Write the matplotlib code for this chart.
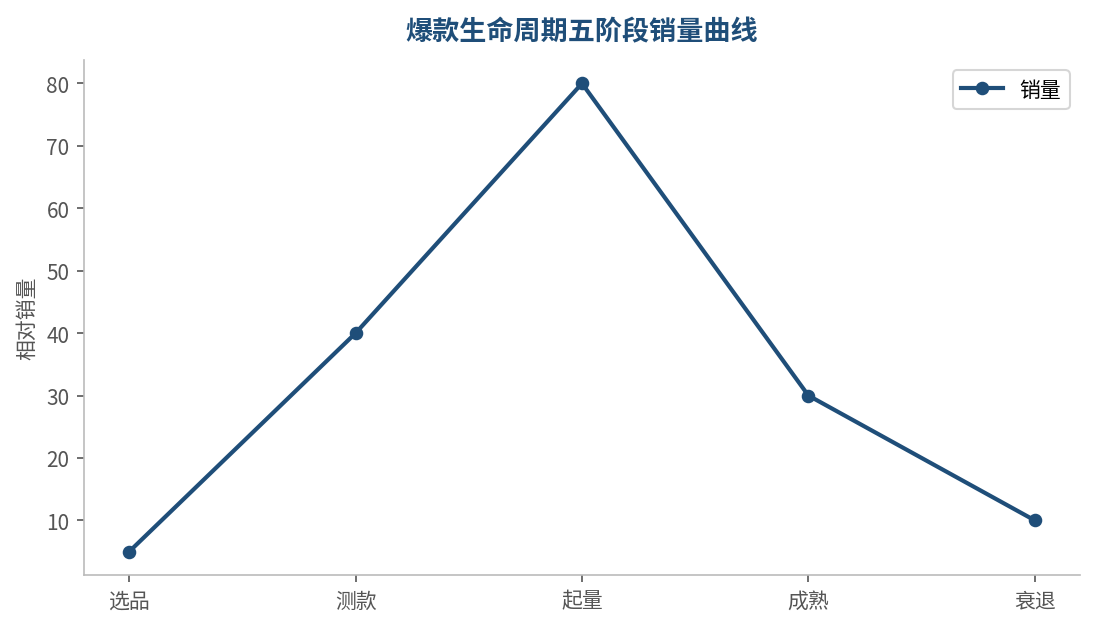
import matplotlib
matplotlib.use('Agg')
import matplotlib.pyplot as plt

plt.rcParams['font.family'] = ['Noto Sans CJK SC', 'DejaVu Sans']

stages = ['选品', '测款', '起量', '成熟', '衰退']
sales = [5, 40, 80, 30, 10]

line_color = '#1f4e79'
grey = '#555555'

fig, ax = plt.subplots(figsize=(7.3, 4.1933), dpi=150)
fig.subplots_adjust(left=0.0767, right=0.9863, top=0.903, bottom=0.0843)

ax.plot(stages, sales, color=line_color, linewidth=2, marker='o', markersize=5.5, label='销量')

ax.set_title('爆款生命周期五阶段销量曲线', fontsize=13, fontweight='bold', color=line_color, pad=10)
ax.set_ylabel('相对销量', fontsize=10, color=grey)

for side in ['top', 'right']:
    ax.spines[side].set_visible(False)
for side in ['left', 'bottom']:
    ax.spines[side].set_color('#bbbbbb')
ax.tick_params(colors=grey, labelsize=10)

leg = ax.legend(loc='upper right', fontsize=10)
leg.get_frame().set_edgecolor('#cccccc')

fig.savefig('out.png', dpi=150)
